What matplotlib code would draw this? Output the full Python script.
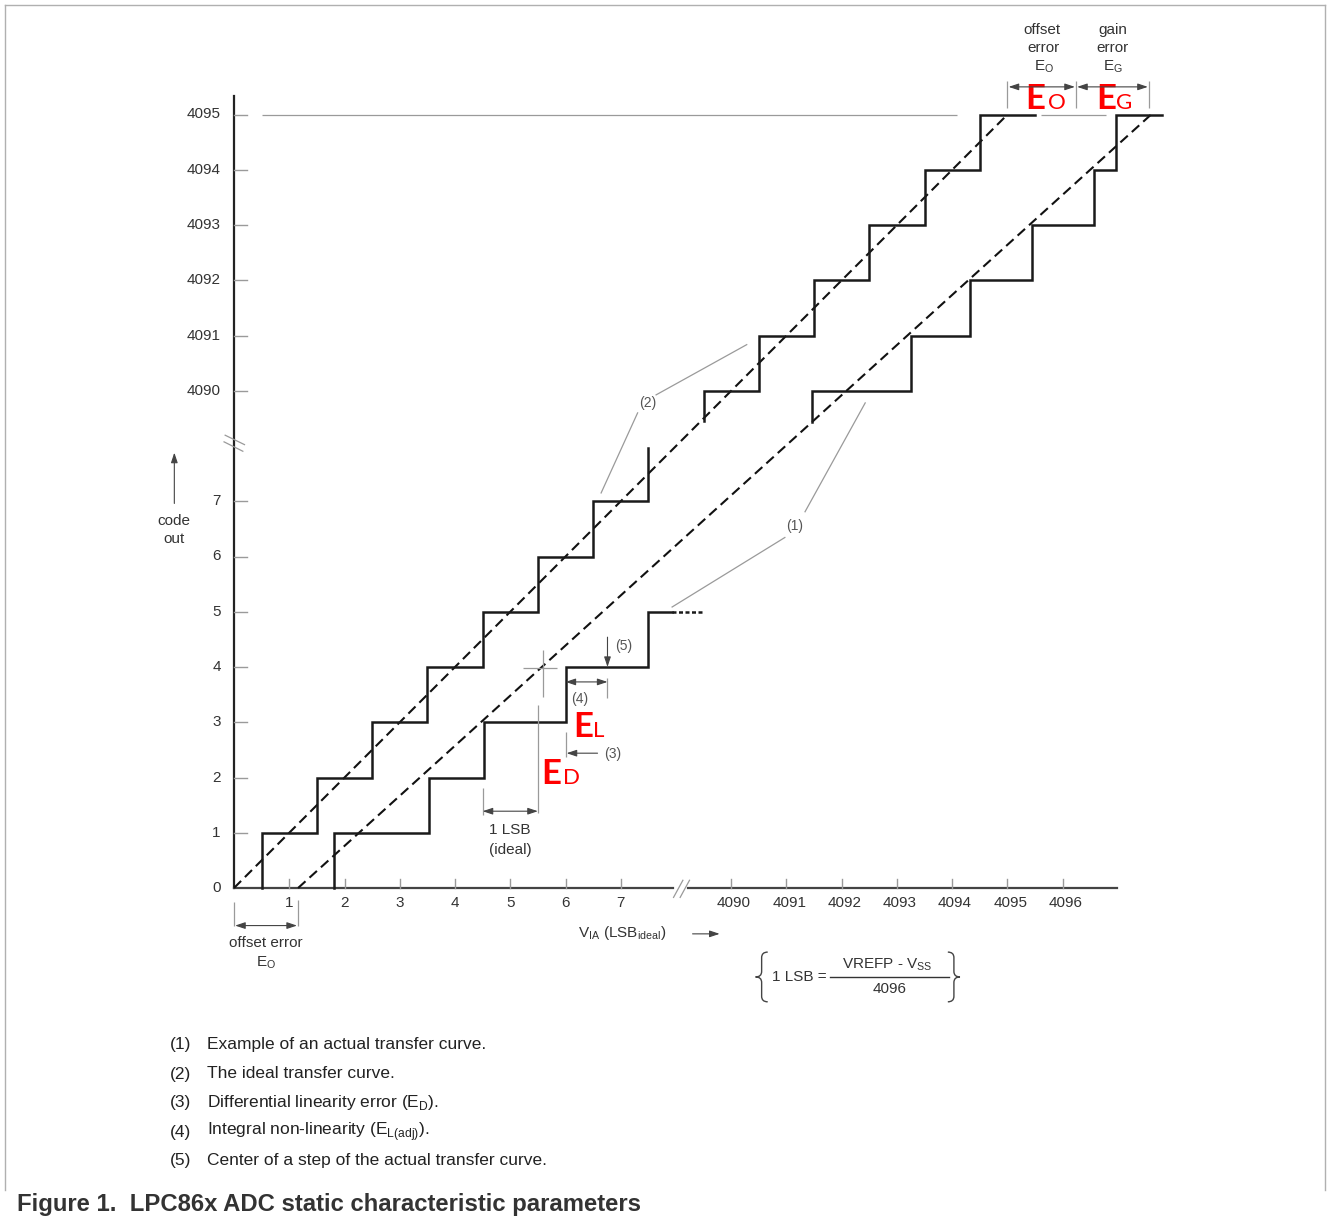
import matplotlib.pyplot as plt
import numpy as np
from matplotlib.path import Path
from matplotlib.patches import PathPatch
from matplotlib.lines import Line2D

plt.rcParams['font.family'] = ['Liberation Sans', 'DejaVu Sans']
plt.rcParams['mathtext.fontset'] = 'custom'
plt.rcParams['mathtext.rm'] = 'Liberation Sans'

# ------------------------------------------------------------
# data: x in LSB (ideal), y in output code
# ------------------------------------------------------------
x_ticks_low = [1, 2, 3, 4, 5, 6, 7]
x_ticks_high = [4090, 4091, 4092, 4093, 4094, 4095, 4096]
y_ticks_low = [0, 1, 2, 3, 4, 5, 6, 7]
y_ticks_high = [4090, 4091, 4092, 4093, 4094, 4095]

# (2) ideal transfer curve
ideal_low_edges = [0.5, 1.5, 2.5, 3.5, 4.5, 5.5, 6.5, 7.5]
ideal_low_codes = [1, 2, 3, 4, 5, 6, 7, 7.96]
ideal_high_edges = [4089.5, 4090.5, 4091.5, 4092.5, 4093.5, 4094.5]
ideal_high_codes = [4090, 4091, 4092, 4093, 4094, 4095]

# (1) example of an actual transfer curve
actual_low_edges = [1.81, 3.53, 4.52, 6.0, 7.5]
actual_low_codes = [1, 2, 3, 4, 5]
actual_high_edges = [4091.47, 4093.26, 4094.33, 4095.45, 4096.57, 4096.97]
actual_high_codes = [4090, 4091, 4092, 4093, 4094, 4095]

# straight (dashed) lines
ideal_line_x = [0, 4095]
ideal_line_y = [0, 4095]
actual_line_x = [1.16, 4097.6]
actual_line_y = [0, 4095]

legend_nums = ['(1)', '(2)', '(3)', '(4)', '(5)']
legend_text = ['Example of an actual transfer curve.',
               'The ideal transfer curve.',
               r'Differential linearity error (E$_\mathregular{D}$).',
               r'Integral non-linearity (E$_\mathregular{L(adj)}$).',
               'Center of a step of the actual transfer curve.']

# ------------------------------------------------------------
# broken axes: codes/LSB above 4000 are shifted down next to 0..8
# ------------------------------------------------------------
OFF = 4081


def brk(v):
    v = np.asarray(v, dtype=float)
    return np.where(v > 1000, v - OFF, v)


def stairs(edges, codes, y0, x_end):
    xs, ys = [], []
    prev = y0
    for e, c in zip(edges, codes):
        xs += [e, e]
        ys += [prev, c]
        prev = c
    xs.append(x_end)
    ys.append(prev)
    return brk(xs), brk(ys)


W, H = 1328, 1217
S = 55.25
X0, Y0 = 234, 888

fig = plt.figure(figsize=(W / 100, H / 100), dpi=100)
ax = fig.add_axes([0, 0, 1, 1])
ax.set_xlim(-X0 / S, (W - X0) / S)
ax.set_ylim(-(H - Y0) / S, Y0 / S)
ax.axis('off')

DARK = '#333333'
GREY = '#9a9a9a'
RED = '#ff0000'


def arrow(x0, y0, x1, y1, style='-|>'):
    ax.annotate('', xy=(x1, y1), xytext=(x0, y0),
                arrowprops=dict(arrowstyle=style + ',head_length=0.6,head_width=0.2',
                                color='#444444', lw=0.8, shrinkA=0, shrinkB=0,
                                mutation_scale=10))


def gline(xs, ys, **kw):
    ax.plot(xs, ys, color=GREY, lw=0.9, solid_capstyle='butt', **kw)


def brace(xc, ytop, ybot, side=1, w=0.11, r=0.1):
    ym = (ytop + ybot) / 2
    verts = [(xc + side * w, ytop), (xc, ytop), (xc, ytop - r),
             (xc, ym + r), (xc, ym), (xc - side * w, ym),
             (xc, ym), (xc, ym - r),
             (xc, ybot + r), (xc, ybot), (xc + side * w, ybot)]
    codes = [Path.MOVETO, Path.CURVE3, Path.CURVE3,
             Path.LINETO, Path.CURVE3, Path.CURVE3,
             Path.CURVE3, Path.CURVE3,
             Path.LINETO, Path.CURVE3, Path.CURVE3]
    ax.add_patch(PathPatch(Path(verts, codes), fill=False, lw=1.0, ec='#444444'))


# ---- axes ----
ax.plot([0, 0], [0, 14.34], color='#222222', lw=1.6)
ax.plot([0, 7.94], [0, 0], color='#444444', lw=1.6)
ax.plot([8.21, 15.99], [0, 0], color='#444444', lw=1.6)

for v in y_ticks_low + y_ticks_high:
    yv = float(brk(v))
    if v != 0:
        ax.plot([0, 0.23], [yv, yv], color=GREY, lw=1.0)
    ax.text(-0.24, yv, str(v), ha='right', va='center', fontsize=11, color=DARK)

for v in x_ticks_low + x_ticks_high:
    xv = float(brk(v))
    ax.plot([xv, xv], [0, 0.17], color=GREY, lw=1.0)
    ax.text(xv + (0.05 if v > 1000 else 0), -0.27, str(v), ha='center', va='center',
            fontsize=11, color=DARK)

# axis break marks
gline([-0.17, 0.2], [8.2, 8.02])
gline([-0.19, 0.17], [8.08, 7.9])
gline([7.95, 8.13], [-0.18, 0.15])
gline([8.07, 8.25], [-0.18, 0.15])

# ---- 4095 reference lines ----
gline(brk([0.5, 4094.09]), brk([4095, 4095]))
gline(brk([4095.61, 4096.79]), brk([4095, 4095]))

# ---- dashed straight lines ----
for lx, ly in [(ideal_line_x, ideal_line_y), (actual_line_x, actual_line_y)]:
    ln, = ax.plot(brk(lx), brk(ly), color='#111111', lw=1.5)
    ln.set_dashes([4.8, 2.6])

# ---- staircases ----
kw = dict(color='#1a1a1a', lw=1.8, solid_joinstyle='miter')
ax.plot(*stairs(ideal_low_edges, ideal_low_codes, 0, 7.5), **kw)
ax.plot(*stairs(ideal_high_edges, ideal_high_codes, 4089.46, 4095.5), **kw)
ax.plot(*stairs(actual_low_edges, actual_low_codes, 0, 7.92), **kw)
ax.plot(*stairs(actual_high_edges, actual_high_codes, 4089.43, 4097.8), **kw)
tail, = ax.plot([7.92, 8.48], [5, 5], color='#1a1a1a', lw=1.8)
tail.set_dashes([1.6, 1.0])

# ---- leader lines and labels (1), (2) ----
gline([7.63, 9.29], [8.92, 9.84])
gline([7.31, 6.64], [8.61, 7.14])
ax.text(7.49, 8.77, '(2)', ha='center', va='center', fontsize=10, color='#555555')
gline([10.33, 11.43], [6.80, 8.79])
gline([9.98, 7.92], [6.35, 5.08])
ax.text(10.14, 6.56, '(1)', ha='center', va='center', fontsize=10, color='#555555')

# crosshair on actual line, code 4
gline([5.23, 5.84], [3.98, 3.98])
gline([5.6, 5.6], [4.30, 3.45])

# 1 LSB (ideal)
gline([4.5, 4.5], [1.81, 1.32])
gline([5.5, 5.5], [3.31, 1.36])
arrow(4.5, 1.39, 5.5, 1.39, '<|-|>')
ax.text(5.0, 1.05, '1 LSB', ha='center', va='center', fontsize=11, color=DARK)
ax.text(5.0, 0.69, '(ideal)', ha='center', va='center', fontsize=11, color=DARK)

# (5) centre of a step
arrow(6.76, 4.54, 6.76, 4.0)
ax.text(7.05, 4.38, '(5)', ha='center', va='center', fontsize=10, color='#555555')

# (4) integral non-linearity
gline([6.76, 6.76], [3.80, 3.44])
arrow(6.0, 3.73, 6.76, 3.73, '<|-|>')
ax.text(6.26, 3.42, '(4)', ha='center', va='center', fontsize=10, color='#555555')

# (3) differential linearity error
gline([6.0, 6.0], [2.82, 2.37])
arrow(6.58, 2.44, 6.02, 2.44)
ax.text(6.85, 2.43, '(3)', ha='center', va='center', fontsize=10, color='#555555')


# red E symbols (big E + subscript letter)
def red_sym(x, y, sub, xs, big=25, small=16):
    ax.text(x, y, 'E', ha='left', va='baseline', fontsize=big, color=RED,
            fontweight='bold', family=['Lato', 'Liberation Sans'])
    ax.text(xs, y, sub, ha='left', va='baseline', fontsize=small, color=RED,
            family=['Lato', 'Liberation Sans'])


red_sym(6.14, 2.73, 'L', 6.5)
red_sym(5.56, 1.89, 'D', 5.96)
red_sym(14.33, 14.1, 'O', 14.73)
red_sym(15.6, 14.1, 'G', 15.97)

# offset error at origin
gline([0, 0], [-0.25, -0.69])
gline([1.16, 1.16], [-0.22, -0.69])
arrow(0.02, -0.68, 1.14, -0.68, '<|-|>')
ax.text(0.58, -0.99, 'offset error', ha='center', va='center', fontsize=11, color=DARK)
ax.text(0.58, -1.36, r'E$_\mathregular{O}$', ha='center', va='center', fontsize=11, color=DARK)

# top: offset error / gain error
for xv in [14.0, 15.24, 16.56]:
    gline([xv, xv], [14.12, 14.61])
arrow(14.02, 14.5, 15.22, 14.5, '<|-|>')
arrow(15.26, 14.5, 16.54, 14.5, '<|-|>')
ax.text(14.63, 15.53, 'offset', ha='center', va='center', fontsize=11, color=DARK)
ax.text(14.66, 15.21, 'error', ha='center', va='center', fontsize=11, color=DARK)
ax.text(14.66, 14.86, r'E$_\mathregular{O}$', ha='center', va='center', fontsize=11, color=DARK)
ax.text(15.9, 15.53, 'gain', ha='center', va='center', fontsize=11, color=DARK)
ax.text(15.9, 15.21, 'error', ha='center', va='center', fontsize=11, color=DARK)
ax.text(15.9, 14.86, r'E$_\mathregular{G}$', ha='center', va='center', fontsize=11, color=DARK)

# axis names
arrow(-1.08, 6.96, -1.08, 7.88)
ax.text(-1.08, 6.64, 'code', ha='center', va='center', fontsize=11, color=DARK)
ax.text(-1.08, 6.32, 'out', ha='center', va='center', fontsize=11, color=DARK)
ax.text(7.02, -0.81, r'V$_\mathregular{IA}$ (LSB$_\mathregular{ideal}$)',
        ha='center', va='center', fontsize=11, color=DARK)
arrow(8.3, -0.83, 8.79, -0.83)

# 1 LSB formula
brace(9.55, -1.16, -2.06, side=1)
brace(13.03, -1.16, -2.06, side=-1)
ax.text(10.23, -1.61, '1 LSB =', ha='center', va='center', fontsize=11, color=DARK)
ax.plot([10.78, 12.95], [-1.61, -1.61], color=DARK, lw=1.0)
ax.text(11.83, -1.39, r'VREFP - V$_\mathregular{SS}$', ha='center', va='center',
        fontsize=11, color=DARK)
ax.text(11.86, -1.83, '4096', ha='center', va='center', fontsize=11, color=DARK)

# ---- legend notes ----
for i, (n, t) in enumerate(zip(legend_nums, legend_text)):
    yy = 1 - (1045 + 29 * i) / H
    fig.text(170 / W, yy, n, ha='left', va='center', fontsize=12.5, color='#222222')
    fig.text(207 / W, yy, t, ha='left', va='center', fontsize=12.5, color='#222222')

fig.text(17 / W, 1 - 1205 / H, 'Figure 1.  LPC86x ADC static characteristic parameters',
         ha='left', va='center', fontsize=17.2, fontweight='bold', color='#333333')

# frame
for xs, ys in [([5, 5], [5, 1190]), ([5, 1325], [5, 5]), ([1325, 1325], [5, 1190])]:
    fig.add_artist(Line2D([x / W for x in xs], [1 - y / H for y in ys],
                          transform=fig.transFigure, color='#b0b0b0', lw=1.0))

fig.savefig('out.png', dpi=100)
